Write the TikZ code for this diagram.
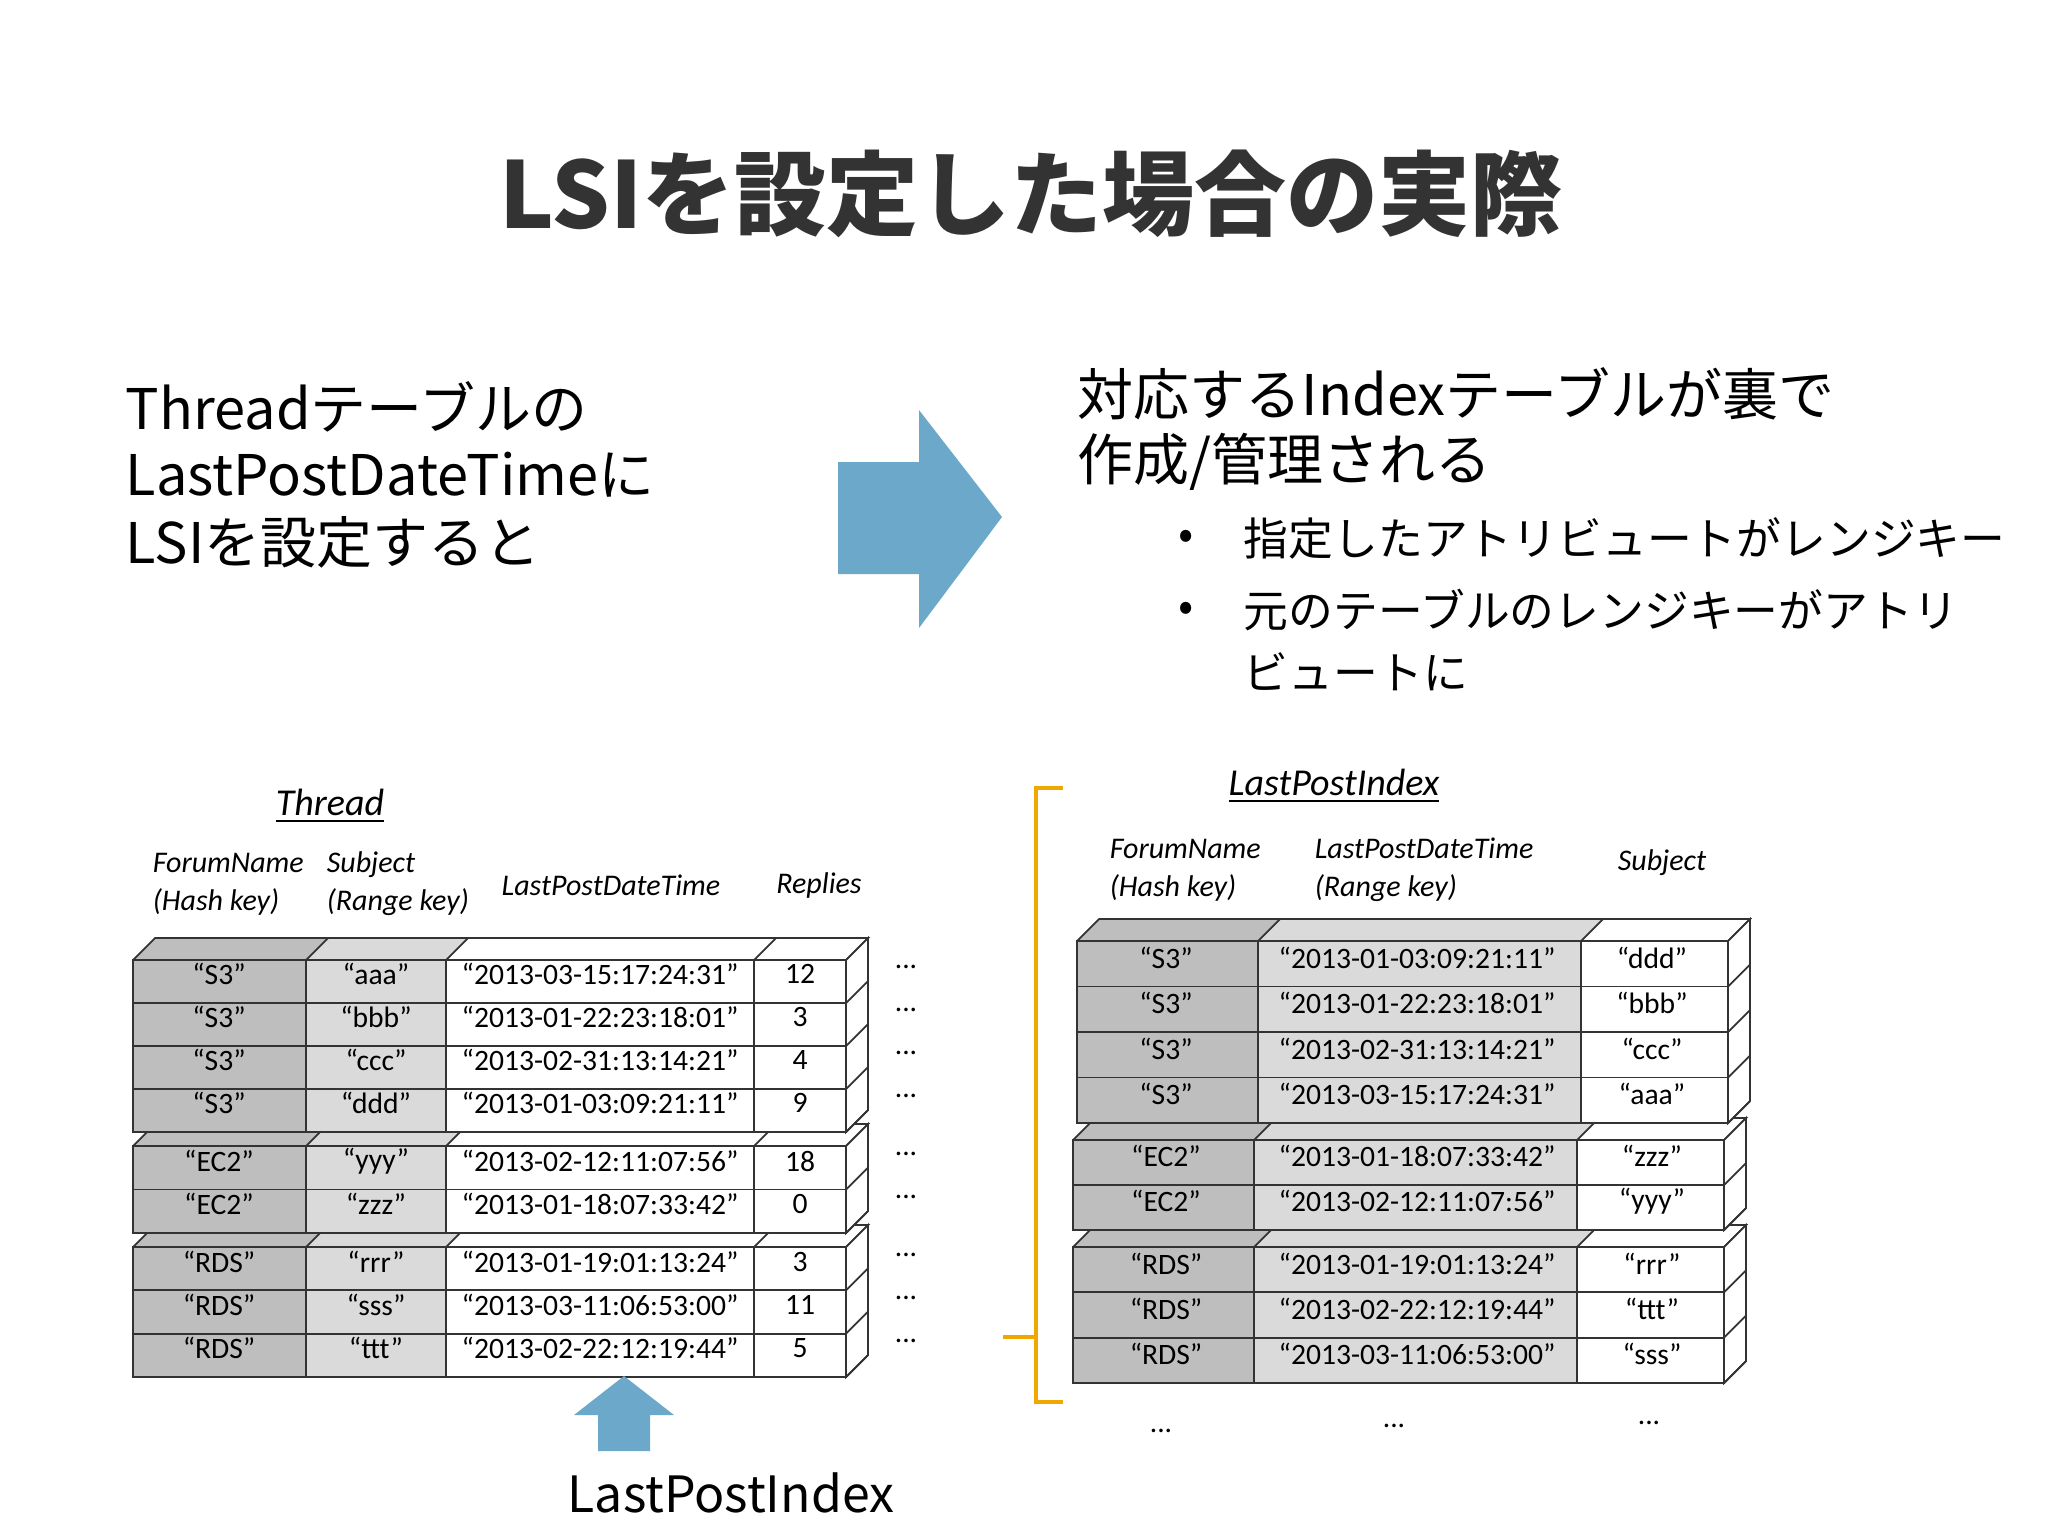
\documentclass[tikz,border=0pt]{standalone}
\usepackage{fontspec}
\setmainfont{Carlito}
\newfontfamily\jp{Noto Sans CJK JP}
\definecolor{arrowblue}{RGB}{108,168,202}
\definecolor{dgray}{RGB}{190,190,190}
\definecolor{lgray}{RGB}{218,218,218}
\definecolor{brk}{RGB}{240,168,0}
\tikzset{
 cell/.style={font=\fontsize{7.4}{8}\selectfont, inner sep=0pt},
 hdr/.style={font=\fontsize{7.5}{9.5}\selectfont\itshape, align=left, inner sep=0pt},
 frame/.style={draw=black!80, line width=0.45pt},
 jptext/.style={font=\jp\fontsize{14}{17}\selectfont, inner sep=0pt, anchor=west},
 bultext/.style={font=\jp\fontsize{11.2}{14}\selectfont, inner sep=0pt, anchor=west},
}
\def\dep{22}
\newcommand\leftgroupx[3]{%
 \fill[dgray] (133,#1) -- (155,#1-\dep) -- (328,#1-\dep) -- (306,#1) -- cycle;
 \fill[lgray] (306,#1) -- (328,#1-\dep) -- (468,#1-\dep) -- (446,#1) -- cycle;
 \fill[white] (446,#1) -- (468,#1-\dep) -- (868,#1-\dep) -- (846,#1) -- cycle;
 \draw[frame] (133,#1) -- (155,#1-\dep) -- (868,#1-\dep) -- (846,#1);
 \foreach \xx in {306,446,754} \draw[frame] (\xx,#1) -- (\xx+\dep,#1-\dep);
 \draw[frame,fill=white] (846,#1) -- (868,#1-\dep) -- (868,#2-\dep) -- (846,#2) -- cycle;
 \fill[dgray] (133,#1) rectangle (306,#2);
 \fill[lgray] (306,#1) rectangle (446,#2);
 \fill[white] (446,#1) rectangle (846,#2);
 \draw[frame] (133,#1) rectangle (846,#2);
 \foreach \xx in {306,446,754} \draw[frame] (\xx,#1) -- (\xx,#2);
 \foreach \i in {1,...,#3} {
   \pgfmathsetmacro\yy{#1+(#2-#1)*\i/#3}
   \draw[frame] (846,\yy) -- (868,\yy-\dep);
   \ifnum\i<#3 \draw[frame] (133,\yy) -- (846,\yy); \fi
 }
}
\newcommand\leftrowx[6]{%
 \node[cell] (#6a) at (219,#1-7) {#2};
 \node[cell] (#6b) at (376,#1-7) {#3};
 \node[cell] (#6c) at (600,#1-7) {#4};
 \node[cell] (#6d) at (800,#1-7) {#5};
 \node[cell] (#6e) at (906,#1-14) {...};
}
\newcommand\rightgroupx[7]{% #1 ytop #2 ybot #3 n #4 xa #5 xb #6 xc #7 xd
 \fill[dgray] (#4,#1) -- (#4+\dep,#1-\dep) -- (#5+\dep,#1-\dep) -- (#5,#1) -- cycle;
 \fill[lgray] (#5,#1) -- (#5+\dep,#1-\dep) -- (#6+\dep,#1-\dep) -- (#6,#1) -- cycle;
 \fill[white] (#6,#1) -- (#6+\dep,#1-\dep) -- (#7+\dep,#1-\dep) -- (#7,#1) -- cycle;
 \draw[frame] (#4,#1) -- (#4+\dep,#1-\dep) -- (#7+\dep,#1-\dep) -- (#7,#1);
 \draw[frame] (#5,#1) -- (#5+\dep,#1-\dep);
 \draw[frame] (#6,#1) -- (#6+\dep,#1-\dep);
 \draw[frame,fill=white] (#7,#1) -- (#7+\dep,#1-\dep) -- (#7+\dep,#2-\dep) -- (#7,#2) -- cycle;
 \fill[dgray] (#4,#1) rectangle (#5,#2);
 \fill[lgray] (#5,#1) rectangle (#6,#2);
 \fill[white] (#6,#1) rectangle (#7,#2);
 \draw[frame] (#4,#1) rectangle (#7,#2);
 \draw[frame] (#5,#1) -- (#5,#2);
 \draw[frame] (#6,#1) -- (#6,#2);
 \foreach \i in {1,...,#3} {
   \pgfmathsetmacro\yy{#1+(#2-#1)*\i/#3}
   \draw[frame] (#7,\yy) -- (#7+\dep,\yy-\dep);
   \ifnum\i<#3 \draw[frame] (#4,\yy) -- (#7,\yy); \fi
 }
}
\newcommand\rightrowx[5]{%
 \node[cell] (#5a) at (1166,#1-6) {#2};
 \node[cell] (#5b) at (1417,#1-6) {#3};
 \node[cell] (#5c) at (1652,#1-6) {#4};
}
\begin{document}
\begin{tikzpicture}[x=0.25pt,y=-0.25pt]
\useasboundingbox (0,0) rectangle (2048,1536);
\fill[white] (0,0) rectangle (2048,1536);

\node[font=\jp\bfseries\fontsize{23}{28}\selectfont, text=black!80, inner sep=0pt] (title) at (1031,194) {LSIを設定した場合の実際};

\node[jptext] (l1) at (125,407) {Threadテーブルの};
\node[jptext] (l2) at (125,475) {LastPostDateTimeに};
\node[jptext] (l3) at (125,542) {LSIを設定すると};

\fill[arrowblue] (838,462) -- (919,462) -- (919,410) -- (1002,517) -- (919,628) -- (919,574) -- (838,574) -- cycle;

\node[jptext] (r1) at (1077,394) {対応するIndexテーブルが裏で};
\node[jptext] (r2) at (1077,462) {作成/管理される};
\node[bultext] (b1) at (1178,540) {•};
\node[bultext] (b1t) at (1243,538) {指定したアトリビュートがレンジキー};
\node[bultext] (b2) at (1178,612) {•};
\node[bultext] (b2t) at (1243,610) {元のテーブルのレンジキーがアトリ};
\node[bultext] (b3t) at (1243,672) {ビュートに};

\leftgroupx{1247}{1377}{3}
\leftgroupx{1146}{1233}{2}
\leftgroupx{960}{1132}{4}
\leftrowx{981}{“S3”}{“aaa”}{“2013-03-15:17:24:31”}{12}{lr1}
\leftrowx{1024}{“S3”}{“bbb”}{“2013-01-22:23:18:01”}{3}{lr2}
\leftrowx{1067}{“S3”}{“ccc”}{“2013-02-31:13:14:21”}{4}{lr3}
\leftrowx{1110}{“S3”}{“ddd”}{“2013-01-03:09:21:11”}{9}{lr4}
\leftrowx{1168}{“EC2”}{“yyy”}{“2013-02-12:11:07:56”}{18}{lr5}
\leftrowx{1211}{“EC2”}{“zzz”}{“2013-01-18:07:33:42”}{0}{lr6}
\leftrowx{1269}{“RDS”}{“rrr”}{“2013-01-19:01:13:24”}{3}{lr7}
\leftrowx{1312}{“RDS”}{“sss”}{“2013-03-11:06:53:00”}{11}{lr8}
\leftrowx{1355}{“RDS”}{“ttt”}{“2013-02-22:12:19:44”}{5}{lr9}

\node[font=\fontsize{9.5}{11}\selectfont\itshape, inner sep=0pt] (tthread) at (330,806) {\underline{Thread}};
\node[hdr, anchor=west] (h1) at (152,884) {ForumName\\(Hash key)};
\node[hdr, anchor=west] (h2) at (326,884) {Subject\\(Range key)};
\node[hdr] (h3) at (611,885) {LastPostDateTime};
\node[hdr] (h4) at (819,885) {Replies};

\fill[arrowblue] (598,1451) -- (650,1451) -- (650,1415) -- (674,1415) -- (624,1376) -- (574,1415) -- (598,1415) -- cycle;
\node[font=\jp\fontsize{12.5}{15}\selectfont, inner sep=0pt] (lpi) at (731,1493) {LastPostIndex};

\rightgroupx{1247}{1383}{3}{1073}{1254}{1577}{1724}
\rightgroupx{1140}{1230}{2}{1073}{1254}{1577}{1724}
\rightgroupx{941}{1123}{4}{1077}{1258}{1581}{1728}
\rightrowx{964}{“S3”}{“2013-01-03:09:21:11”}{“ddd”}{rr1}
\rightrowx{1009}{“S3”}{“2013-01-22:23:18:01”}{“bbb”}{rr2}
\rightrowx{1055}{“S3”}{“2013-02-31:13:14:21”}{“ccc”}{rr3}
\rightrowx{1100}{“S3”}{“2013-03-15:17:24:31”}{“aaa”}{rr4}
\rightrowx{1162}{“EC2”}{“2013-01-18:07:33:42”}{“zzz”}{rr5}
\rightrowx{1207}{“EC2”}{“2013-02-12:11:07:56”}{“yyy”}{rr6}
\rightrowx{1270}{“RDS”}{“2013-01-19:01:13:24”}{“rrr”}{rr7}
\rightrowx{1315}{“RDS”}{“2013-02-22:12:19:44”}{“ttt”}{rr8}
\rightrowx{1360}{“RDS”}{“2013-03-11:06:53:00”}{“sss”}{rr9}

\node[font=\fontsize{9.5}{11}\selectfont\itshape, inner sep=0pt] (tlpi) at (1334,786) {\underline{LastPostIndex}};
\node[hdr, anchor=west] (rh1) at (1109,870) {ForumName\\(Hash key)};
\node[hdr, anchor=west] (rh2) at (1314,870) {LastPostDateTime\\(Range key)};
\node[hdr] (rh3) at (1662,863) {Subject};
\node[cell] (rd1) at (1161,1431) {...};
\node[cell] (rd2) at (1394,1426) {...};
\node[cell] (rd3) at (1649,1423) {...};

\draw[brk, line width=1pt] (1063,788) -- (1036,788) -- (1036,1402) -- (1063,1402);
\draw[brk, line width=1pt] (1036,1337) -- (1003,1337);
\end{tikzpicture}
\end{document}
